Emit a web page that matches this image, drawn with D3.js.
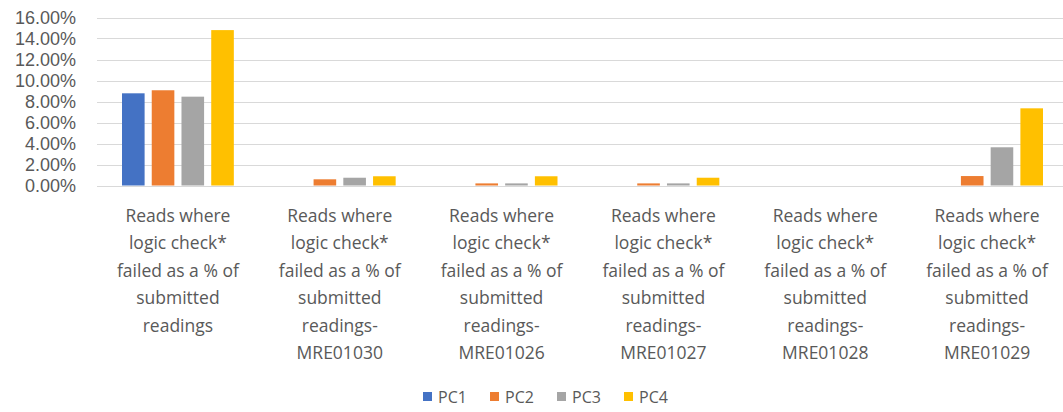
<!DOCTYPE html>
<html>
<head>
<meta charset="utf-8">
<script src="https://cdn.jsdelivr.net/npm/d3@7"></script>
<style>
  body { margin: 0; background: #fff; }
  svg text { font-family: "Open Sans", "Liberation Sans", sans-serif; fill: #595959; }
  svg .ytick text { font-family: "Liberation Sans", Arial, sans-serif; }
</style>
</head>
<body>
<svg id="chart" width="1063" height="412"></svg>
<script>
var categories = [
  "Reads where|logic check*|failed as a % of|submitted|readings",
  "Reads where|logic check*|failed as a % of|submitted|readings-|MRE01030",
  "Reads where|logic check*|failed as a % of|submitted|readings-|MRE01026",
  "Reads where|logic check*|failed as a % of|submitted|readings-|MRE01027",
  "Reads where|logic check*|failed as a % of|submitted|readings-|MRE01028",
  "Reads where|logic check*|failed as a % of|submitted|readings-|MRE01029"
];
var seriesNames = ["PC1", "PC2", "PC3", "PC4"];
var pc1 = [0.0878, 0, 0, 0, 0, 0];
var pc2 = [0.0907, 0.0059, 0.0020, 0.0020, 0, 0.0090];
var pc3 = [0.0846, 0.0074, 0.0020, 0.0020, 0, 0.0364];
var pc4 = [0.1480, 0.0088, 0.0088, 0.0074, 0, 0.0735];
var yTicks = [0, 0.02, 0.04, 0.06, 0.08, 0.10, 0.12, 0.14, 0.16];
var colors = ["#4472C4", "#ED7D31", "#A5A5A5", "#FFC000"];

var series = [pc1, pc2, pc3, pc4];
var svg = d3.select("#chart");

var x = d3.scaleBand().domain(d3.range(categories.length)).range([97, 1068]);
var xs = d3.scaleBand().domain(d3.range(series.length))
  .range([25, x.bandwidth() - 25]).paddingInner(0.24);
var y = d3.scaleLinear().domain([0, 0.16]).range([185.5, 17.5]);

// gridlines
svg.append("g").selectAll("line")
  .data(yTicks)
  .enter().append("line")
  .attr("x1", 97).attr("x2", 1063)
  .attr("y1", d => Math.round(y(d)) + 0.5)
  .attr("y2", d => Math.round(y(d)) + 0.5)
  .attr("stroke", "#D9D9D9").attr("stroke-width", 1.2);

// y axis labels
var yAxis = svg.append("g")
  .attr("class", "ytick")
  .attr("transform", "translate(76,0)")
  .call(d3.axisLeft(y).tickValues(yTicks).tickFormat(d3.format(".2%")).tickSize(0).tickPadding(0));
yAxis.select(".domain").remove();
yAxis.selectAll("text").style("font-size", "18px").attr("fill", "#595959");

// bars
var groups = svg.append("g").selectAll("g")
  .data(categories)
  .enter().append("g")
  .attr("transform", (d, i) => "translate(" + x(i) + ",0)");

groups.selectAll("rect")
  .data((d, i) => series.map((s, k) => ({ k: k, v: s[i] })))
  .enter().append("rect")
  .attr("x", d => xs(d.k))
  .attr("width", xs.bandwidth())
  .attr("y", d => y(d.v))
  .attr("height", d => y(0) - y(d.v))
  .attr("fill", d => colors[d.k]);

// category labels
groups.append("text")
  .attr("text-anchor", "middle")
  .style("font-size", "17.5px")
  .selectAll("tspan")
  .data(d => d.split("|"))
  .enter().append("tspan")
  .attr("x", x.bandwidth() / 2)
  .attr("y", (d, j) => 222 + j * 27.4)
  .text(d => d);

// legend
var legend = svg.append("g").attr("transform", "translate(423,397)");
var item = legend.selectAll("g")
  .data(seriesNames)
  .enter().append("g")
  .attr("transform", (d, i) => "translate(" + (i * 67) + ",0)");
item.append("rect")
  .attr("x", 0).attr("y", -5).attr("width", 9).attr("height", 9)
  .attr("fill", (d, i) => colors[i]);
item.append("text")
  .attr("x", 15).attr("y", 6)
  .style("font-size", "16px")
  .text(d => d);
</script>
</body>
</html>
